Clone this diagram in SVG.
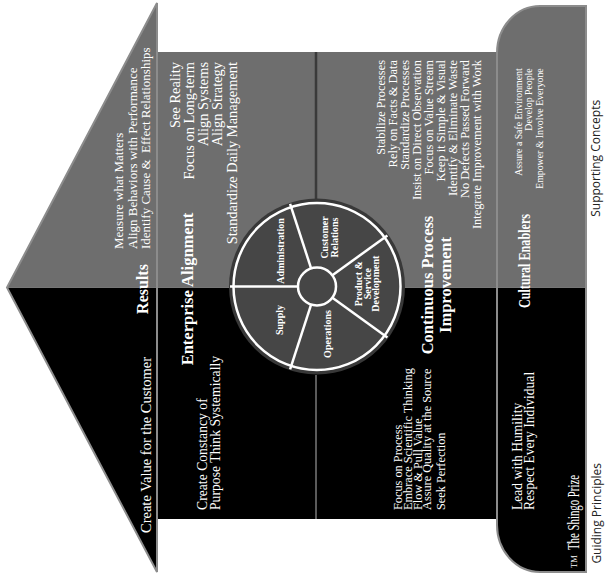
<svg xmlns="http://www.w3.org/2000/svg" width="610" height="575" viewBox="0 0 610 575">
<style>
  text { font-family: "Liberation Serif", "Times New Roman", serif; fill: #fff; }
  .h { font-weight: bold; font-size: 16.5px; text-anchor: middle; }
  .roof { font-size: 13px; }
  .ea { font-size: 14.4px; }
  .cp { font-size: 13.7px; }
  .cpi { font-size: 12.4px; }
  .pr { font-size: 12.3px; }
  .fnd { font-size: 9.8px; }
  .gp { font-size: 13.6px; }
  .wl { font-size: 10px; font-weight: bold; text-anchor: middle; }
  .end { text-anchor: end; }
  .cap { font-family: "Open Sans", "Liberation Sans", sans-serif; font-size: 12px; fill: #222; text-anchor: middle; }
  .gray { fill: #6e6e6e; }
  .dark { fill: #000; }
  .edge { fill: none; stroke: #8c8c8c; stroke-width: 2; }
  .spoke { stroke: #fff; stroke-width: 2.5; }
</style>
<rect width="610" height="575" fill="#fff"/>
<!-- house drawn upright, then turned a quarter turn to lie on its side -->
<g transform="translate(0,575) rotate(-90)">

  <!-- body of the house -->
  <g id="body">
    <rect class="dark" x="56" y="157" width="231.5" height="340"/>
    <rect class="gray" x="287.5" y="157" width="235.5" height="340"/>
  </g>

  <!-- roof -->
  <g id="roof">
    <polygon class="dark" points="3,157 287.5,7 287.5,157"/>
    <polygon class="gray" points="287.5,7 572,157 287.5,157"/>
    <polygon class="edge" points="3,157 287.5,7 572,157"/>
    <text class="roof" x="326" y="123">Measure what Matters</text>
    <text class="roof" x="326" y="136.5">Align Behaviors with Performance</text>
    <text class="roof" x="326" y="149.5" xml:space="preserve">Identify Cause &amp;  Effect Relationships</text>
    <text class="h" x="286" y="148" style="font-size:16px">Results</text>
    <text x="42" y="151" style="font-size:14.5px">Create Value for the Customer</text>
  </g>

  <!-- foundation -->
  <g id="foundation">
    <path class="dark" d="M3,586 L3,540 A47,43 0 0 1 50,497 L287.5,497 L287.5,586 Z"/>
    <path class="gray" d="M287.5,497 L522,497 A47,43 0 0 1 569,540 L569,586 L287.5,586 Z"/>
    <path class="edge" d="M3,586 L3,540 A47,43 0 0 1 50,497 L522,497 A47,43 0 0 1 569,540 L569,586 Z"/>
    <text class="fnd end" x="506.7" y="521.5">Assure a Safe Environment</text>
    <text class="fnd end" x="506.7" y="532">Develop People</text>
    <text class="fnd end" x="506.7" y="542.5">Empower &amp; Involve Everyone</text>
    <text x="267" y="530" style="font-size:16px;font-weight:bold" textLength="94" lengthAdjust="spacingAndGlyphs">Cultural Enablers</text>
    <text class="gp" x="65" y="521.5">Lead with Humility</text>
    <text class="gp" x="65" y="533.5">Respect Every Individual</text>
    <text x="25" y="578.5" style="font-size:17px" textLength="75" lengthAdjust="spacingAndGlyphs">The Shingo Prize</text>
    <text x="7" y="577" style="font-size:8.5px">TM</text>
  </g>

  <!-- row dividers -->
  <line x1="376" y1="316" x2="523" y2="316" stroke="#3a3a3a" stroke-width="2.5"/>
  <line x1="56" y1="316" x2="200" y2="316" stroke="#5a5a5a" stroke-width="2"/>

  <!-- enterprise alignment -->
  <g id="enterprise-alignment">
    <text class="h" x="286" y="193">Enterprise Alignment</text>
    <text class="ea end" x="513" y="180">See Reality</text>
    <text class="ea end" x="513" y="194">Focus on Long-term</text>
    <text class="ea end" x="513" y="208">Align Systems</text>
    <text class="ea end" x="513" y="222">Align Strategy</text>
    <text class="ea end" x="513" y="236.5">Standardize Daily Management</text>
    <text class="cp" x="65" y="206.5">Create Constancy of</text>
    <text class="cp" x="65" y="219.5">Purpose Think Systemically</text>
  </g>

  <!-- continuous process improvement -->
  <g id="continuous-improvement">
    <text class="h" x="290" y="432.5">Continuous Process</text>
    <text class="h" x="290" y="451">Improvement</text>
    <text class="cpi end" x="515" y="385">Stabilize Processes</text>
    <text class="cpi end" x="515" y="397">Rely on Facts &amp; Data</text>
    <text class="cpi end" x="515" y="409">Standardize Processes</text>
    <text class="cpi end" x="515" y="421">Insist on Direct Observation</text>
    <text class="cpi end" x="515" y="433">Focus on Value Stream</text>
    <text class="cpi end" x="515" y="445">Keep it Simple &amp; Visual</text>
    <text class="cpi end" x="515" y="457">Identify &amp; Eliminate Waste</text>
    <text class="cpi end" x="515" y="469">No Defects Passed Forward</text>
    <text class="cpi end" x="515" y="481">Integrate Improvement with Work</text>
    <text class="pr" x="65" y="401.5">Focus on Process</text>
    <text class="pr" x="65" y="411.5">Embrace Scientific Thinking</text>
    <text class="pr" x="65" y="421.5">Flow &amp; Pull Value</text>
    <text class="pr" x="65" y="431">Assure Quality at the Source</text>
    <text class="pr" x="65" y="445">Seek Perfection</text>
  </g>

  <!-- business systems wheel -->
  <g id="wheel">
    <circle cx="288.5" cy="317" r="88" fill="#383838"/>
    <circle cx="288.5" cy="317" r="83.5" fill="#464646" stroke="#fff" stroke-width="2.5"/>
    <line class="spoke" x1="288.5" y1="298" x2="288.5" y2="230"/>
    <line class="spoke" x1="306.6" y1="311.1" x2="371.2" y2="290.1"/>
    <line class="spoke" x1="299.7" y1="332.4" x2="339.6" y2="387.4"/>
    <line class="spoke" x1="277.3" y1="332.4" x2="237.4" y2="387.4"/>
    <line class="spoke" x1="270.4" y1="311.1" x2="205.7" y2="290.1"/>
    <circle cx="288.5" cy="317" r="19" fill="#464646" stroke="#fff" stroke-width="2.5"/>
    <text class="wl" x="324" y="284">Administration</text>
    <text class="wl" x="337.5" y="327.5">Customer</text>
    <text class="wl" x="337.5" y="337.5">Relations</text>
    <text class="wl" x="291.3" y="361.5">Product &amp;</text>
    <text class="wl" x="291.3" y="370.5">Service</text>
    <text class="wl" x="291.3" y="379">Development</text>
    <text class="wl" x="241" y="331">Operations</text>
    <text class="wl" x="255" y="283">Supply</text>
  </g>

  <!-- captions under the foundation -->
  <g id="captions">
    <text class="cap" x="416.7" y="600">Supporting Concepts</text>
    <text class="cap" x="61.7" y="601">Guiding Principles</text>
  </g>
</g>
</svg>
